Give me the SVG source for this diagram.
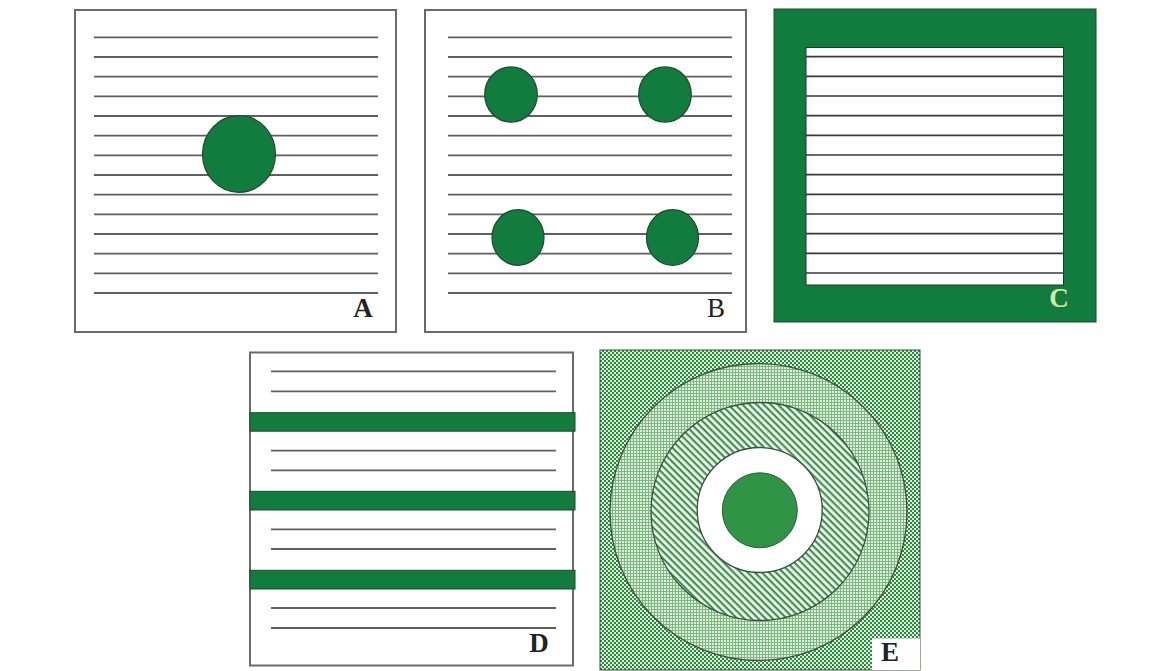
<svg xmlns="http://www.w3.org/2000/svg" width="1164" height="671" viewBox="0 0 1164 671">
<style>
.frame{fill:#fff;stroke:#6a6a6a;stroke-width:2}
.ln{stroke:#606060;stroke-width:1.8}
.lnd{stroke:#3a3a3a;stroke-width:1.7}
.dot{fill:#117c3d;stroke:#1d4a2a;stroke-width:1.2}
.bar{fill:#117c3d;stroke:#1d4a2a;stroke-width:1}
.lbl{font-family:"Liberation Serif",serif;font-weight:bold;font-size:27px;fill:#222;text-anchor:middle}
.ring{stroke:#3d4f3f;stroke-width:1.3}
</style>
<defs>
<pattern id="checker" patternUnits="userSpaceOnUse" width="4" height="4">
<rect width="4" height="4" fill="#dcefda"/>
<rect width="2" height="2" fill="#2b8a40"/>
<rect x="2" y="2" width="2" height="2" fill="#2b8a40"/>
</pattern>
<pattern id="mesh" patternUnits="userSpaceOnUse" width="3" height="3">
<rect width="3" height="3" fill="#dcedd9"/>
<rect width="3" height="1" fill="#7db882"/>
<rect width="1" height="3" fill="#7db882"/>
</pattern>
<pattern id="stripes" patternUnits="userSpaceOnUse" width="5" height="5" patternTransform="rotate(45)">
<rect width="5" height="5" fill="#f2f9f0"/>
<rect width="5" height="2.2" fill="#3f9150"/>
</pattern>
</defs>
<rect width="1164" height="671" fill="#fff"/>

<g id="panelA">
<rect class="frame" x="75" y="10" width="321" height="322"/>
<g class="ln">
<line x1="94" y1="37.3" x2="378" y2="37.3"/><line x1="94" y1="57" x2="378" y2="57"/><line x1="94" y1="76.6" x2="378" y2="76.6"/><line x1="94" y1="96.3" x2="378" y2="96.3"/><line x1="94" y1="116" x2="378" y2="116"/><line x1="94" y1="135.6" x2="378" y2="135.6"/><line x1="94" y1="155.3" x2="378" y2="155.3"/><line x1="94" y1="175" x2="378" y2="175"/><line x1="94" y1="194.7" x2="378" y2="194.7"/><line x1="94" y1="214.3" x2="378" y2="214.3"/><line x1="94" y1="234" x2="378" y2="234"/><line x1="94" y1="253.7" x2="378" y2="253.7"/><line x1="94" y1="273.3" x2="378" y2="273.3"/><line x1="94" y1="293" x2="378" y2="293"/>
</g>
<ellipse class="dot" cx="239" cy="154" rx="36.5" ry="38.3"/>
<text class="lbl" x="363" y="317">A</text>
</g>

<g id="panelB">
<rect class="frame" x="425" y="10" width="321" height="322"/>
<g class="ln">
<line x1="448" y1="37.3" x2="732" y2="37.3"/><line x1="448" y1="57" x2="732" y2="57"/><line x1="448" y1="76.6" x2="732" y2="76.6"/><line x1="448" y1="96.3" x2="732" y2="96.3"/><line x1="448" y1="116" x2="732" y2="116"/><line x1="448" y1="135.6" x2="732" y2="135.6"/><line x1="448" y1="155.3" x2="732" y2="155.3"/><line x1="448" y1="175" x2="732" y2="175"/><line x1="448" y1="194.7" x2="732" y2="194.7"/><line x1="448" y1="214.3" x2="732" y2="214.3"/><line x1="448" y1="234" x2="732" y2="234"/><line x1="448" y1="253.7" x2="732" y2="253.7"/><line x1="448" y1="273.3" x2="732" y2="273.3"/><line x1="448" y1="293" x2="732" y2="293"/>
</g>
<ellipse class="dot" cx="511" cy="94.5" rx="26.3" ry="27.6"/>
<ellipse class="dot" cx="665" cy="94.5" rx="26.3" ry="27.6"/>
<ellipse class="dot" cx="518" cy="237.5" rx="26" ry="27.8"/>
<ellipse class="dot" cx="672.5" cy="237.5" rx="26" ry="27.8"/>
<text class="lbl" x="716" y="317" style="font-weight:normal">B</text>
</g>

<g id="panelC">
<rect x="774" y="9" width="322" height="313" fill="#117c3d" stroke="#1d4a2a" stroke-width="1"/>
<rect x="806" y="47.5" width="257.5" height="237.5" fill="#fff" stroke="#1d3a25" stroke-width="1"/>
<g class="lnd">
<line x1="806" y1="56.7" x2="1063.5" y2="56.7"/><line x1="806" y1="76.3" x2="1063.5" y2="76.3"/><line x1="806" y1="96" x2="1063.5" y2="96"/><line x1="806" y1="115.7" x2="1063.5" y2="115.7"/><line x1="806" y1="135.3" x2="1063.5" y2="135.3"/><line x1="806" y1="155" x2="1063.5" y2="155"/><line x1="806" y1="174.7" x2="1063.5" y2="174.7"/><line x1="806" y1="194.4" x2="1063.5" y2="194.4"/><line x1="806" y1="214" x2="1063.5" y2="214"/><line x1="806" y1="233.7" x2="1063.5" y2="233.7"/><line x1="806" y1="253.4" x2="1063.5" y2="253.4"/><line x1="806" y1="273" x2="1063.5" y2="273"/>
</g>
<text class="lbl" x="1059" y="307" style="fill:#d2eba4">C</text>
</g>

<g id="panelD">
<rect class="frame" x="250" y="352.5" width="323" height="313"/>
<g class="ln">
<line x1="271" y1="371.3" x2="556" y2="371.3"/><line x1="271" y1="391.3" x2="556" y2="391.3"/>
<line x1="271" y1="450.7" x2="556" y2="450.7"/><line x1="271" y1="470.3" x2="556" y2="470.3"/>
<line x1="271" y1="529.3" x2="556" y2="529.3"/><line x1="271" y1="549" x2="556" y2="549"/>
<line x1="271" y1="608" x2="556" y2="608"/><line x1="271" y1="628" x2="556" y2="628"/>
</g>
<rect class="bar" x="250" y="412.7" width="325" height="18.5"/>
<rect class="bar" x="250" y="491.3" width="325" height="18.7"/>
<rect class="bar" x="250" y="570.3" width="325" height="18.7"/>
<text class="lbl" x="539" y="652">D</text>
</g>

<g id="panelE">
<rect x="600" y="350" width="320" height="320" fill="url(#checker)" stroke="#3d4f3f" stroke-width="1"/>
<circle class="ring" cx="758.5" cy="512" r="148.5" fill="url(#mesh)"/>
<circle class="ring" cx="760" cy="511.5" r="109" fill="url(#stripes)"/>
<circle class="ring" cx="759.7" cy="510" r="62.5" fill="#fff"/>
<circle cx="759.8" cy="510.3" r="37.5" fill="#2f9446" stroke="#2d5a35" stroke-width="1"/>
<rect x="872" y="638.5" width="48" height="31.5" fill="#fff"/>
<text class="lbl" x="890" y="661">E</text>
</g>
</svg>
